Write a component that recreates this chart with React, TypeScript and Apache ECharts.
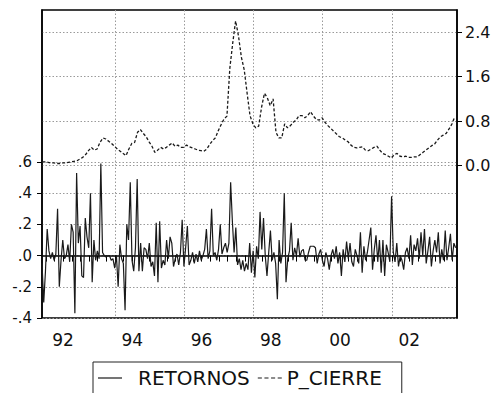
import React, { useEffect, useRef } from 'react';
import * as echarts from 'echarts';

// Time axis (fractional years)
const X_MIN = 1991.89;
const X_MAX = 2003.88;
const RET_START = 1991.89;
const RET_STEP = 0.05;
const PRICE_START = 1991.9;
const PRICE_STEP = 1 / 12;

const YEAR_LABELS = [1992, 1994, 1996, 1998, 2000, 2002];
const GRID_YEARS = [1994, 1996, 1998, 2000, 2002];
const RET_TICKS = [-0.4, -0.2, 0, 0.2, 0.4, 0.6];
const PRICE_TICKS = [0, 0.8, 1.6, 2.4];
const SERIES_NAMES = ['RETORNOS', 'P_CIERRE'];

const RETORNOS = [
  -0.05, -0.30, -0.10, 0.17, 0.03, -0.02, 0.02, -0.03, 0.01, 0.30, -0.20, -0.03, 0.10, -0.02, 0.00, 0.07, -0.04, 0.20, 0.15, -0.37,
  0.53, 0.08, 0.19, -0.13, -0.14, 0.24, 0.12, 0.05, 0.40, -0.17, 0.10, -0.03, 0.03, -0.02, 0.59, 0.02, 0.00, -0.01, 0.00, 0.00,
  -0.03, -0.02, -0.08, 0.00, -0.20, 0.07, -0.02, -0.05, -0.35, 0.20, 0.10, 0.47, -0.03, -0.10, 0.05, 0.49, -0.10, 0.08, -0.10, 0.05,
  0.04, -0.02, 0.08, -0.07, -0.04, -0.13, 0.21, -0.17, 0.22, -0.08, -0.03, -0.06, 0.10, -0.02, 0.12, 0.08, -0.07, -0.02, 0.01, -0.06,
  0.02, 0.23, -0.07, 0.05, 0.19, -0.06, -0.03, 0.02, -0.05, 0.01, -0.04, 0.03, -0.03, 0.00, 0.04, 0.17, -0.02, 0.03, 0.30, 0.00,
  0.02, -0.03, 0.04, 0.20, 0.01, 0.05, 0.08, 0.02, 0.08, 0.47, 0.22, 0.02, 0.18, -0.06, -0.02, -0.09, -0.03, -0.10, -0.05, -0.09,
  0.08, -0.11, 0.03, -0.14, 0.06, -0.02, 0.28, 0.04, 0.24, 0.00, -0.13, 0.02, 0.16, -0.03, 0.02, -0.05, -0.28, 0.10, -0.05, 0.02,
  0.40, -0.17, -0.02, 0.03, 0.21, -0.03, 0.05, 0.00, 0.11, -0.01, 0.03, 0.04, -0.03, -0.03, 0.02, 0.06, 0.06, 0.06, 0.05, -0.05,
  0.01, 0.04, -0.03, -0.07, 0.02, -0.02, -0.09, 0.00, 0.04, -0.02, 0.06, -0.05, 0.02, -0.13, 0.04, -0.04, 0.09, -0.02, 0.08, -0.04,
  -0.07, 0.04, 0.00, -0.05, 0.15, -0.11, 0.06, -0.03, 0.02, 0.10, 0.18, -0.09, 0.04, 0.13, -0.04, 0.10, -0.11, 0.10, -0.13, 0.07,
  0.02, -0.04, 0.38, 0.02, -0.04, 0.08, -0.07, 0.00, -0.03, -0.09, 0.02, 0.05, -0.02, 0.13, -0.06, 0.07, 0.03, 0.11, -0.02, 0.15,
  0.00, 0.17, -0.05, 0.03, 0.12, -0.07, 0.03, 0.10, 0.02, 0.15, -0.05, 0.04, -0.03, 0.16, -0.03, 0.05, 0.14, -0.03, 0.08, 0.05,
];

const P_CIERRE = [
  0.07, 0.07, 0.06, 0.05, 0.05, 0.04, 0.04, 0.05, 0.05, 0.06,
  0.07, 0.08, 0.09, 0.12, 0.15, 0.20, 0.27, 0.33, 0.28, 0.30,
  0.42, 0.50, 0.48, 0.44, 0.40, 0.35, 0.30, 0.26, 0.22, 0.18,
  0.30, 0.40, 0.42, 0.60, 0.65, 0.58, 0.52, 0.43, 0.35, 0.24,
  0.28, 0.33, 0.30, 0.33, 0.37, 0.41, 0.35, 0.37, 0.33, 0.33,
  0.37, 0.34, 0.32, 0.30, 0.28, 0.27, 0.26, 0.30, 0.38, 0.45,
  0.50, 0.63, 0.74, 0.84, 0.89, 1.75, 2.20, 2.60, 2.33, 1.95,
  1.72, 1.30, 0.90, 0.75, 0.68, 0.71, 1.05, 1.30, 1.22, 1.08,
  1.20, 0.60, 0.50, 0.50, 0.75, 0.68, 0.72, 0.78, 0.82, 0.90,
  0.90, 0.86, 0.90, 0.97, 0.89, 0.83, 0.82, 0.86, 0.78, 0.72,
  0.67, 0.62, 0.57, 0.52, 0.50, 0.46, 0.43, 0.37, 0.33, 0.32,
  0.33, 0.34, 0.28, 0.27, 0.30, 0.33, 0.35, 0.28, 0.22, 0.20,
  0.17, 0.14, 0.20, 0.22, 0.17, 0.16, 0.17, 0.15, 0.15, 0.16,
  0.16, 0.20, 0.24, 0.28, 0.32, 0.36, 0.39, 0.46, 0.52, 0.55,
  0.58, 0.66, 0.75, 0.88,
];

const FONT = 'DejaVu Sans';
const INK = '#111';
const LINE_INK = '#1a1a1a';
const GRID_COLOR = '#9a9a9a';
const SOLID_ICON = 'path://M0,0h24v1.2h-24z';
const DASH_ICON = 'path://M0,0h4v1.2h-4zM6.5,0h4v1.2h-4zM13,0h4v1.2h-4zM19.5,0h4v1.2h-4z';

function quarterTicks(): number[] {
  const out: number[] = [];
  for (let y = 1992; y < X_MAX; y += 0.25) out.push(y);
  return out;
}

export default function App() {
  const ref = useRef<HTMLDivElement>(null);

  useEffect(() => {
    if (!ref.current) return;
    const chart = echarts.init(ref.current, undefined, { renderer: 'svg' });

    const retData = RETORNOS.map((v, i) => [RET_START + i * RET_STEP, v]);
    const priceData = P_CIERRE.map((v, i) => [PRICE_START + i * PRICE_STEP, v]);

    const gridLine = { show: true, lineStyle: { color: GRID_COLOR, width: 1, type: [1.5, 2] as any } };

    chart.setOption({
      animation: false,
      backgroundColor: '#fff',
      grid: {
        left: 42, right: 39, top: 10, bottom: 75,
        show: true, borderColor: '#000', borderWidth: 1.5, backgroundColor: 'transparent',
      },
      legend: {
        data: [
          { name: SERIES_NAMES[0], icon: SOLID_ICON },
          { name: SERIES_NAMES[1], icon: DASH_ICON },
        ],
        left: 93, top: 362,
        itemWidth: 24, itemHeight: 2, itemGap: 8,
        borderColor: '#222', borderWidth: 1,
        padding: [6, 20, 14, 5],
        itemStyle: { color: LINE_INK, borderWidth: 0 },
        lineStyle: { width: 0 },
        formatter: (name: string) => name === 'RETORNOS' ? '{g|}{t|' + name + '}' : '{t|' + name + '}',
        textStyle: {
          fontFamily: FONT, fontSize: 20, color: INK,
          rich: {
            g: { width: 11 },
            t: { fontFamily: FONT, fontSize: 20, color: INK },
          },
        },
      },
      xAxis: [
        {
          type: 'value', min: X_MIN, max: X_MAX,
          axisLine: { show: true, lineStyle: { color: '#000', width: 1.5 } },
          axisTick: { show: true, inside: false, length: 6, customValues: quarterTicks(), lineStyle: { color: '#000' } },
          axisLabel: {
            show: true, customValues: YEAR_LABELS.map((y) => y + 0.5), margin: 13,
            fontFamily: FONT, fontSize: 17, color: INK,
            formatter: (v: number) => String(Math.floor(v) % 100).padStart(2, '0'),
          },
          splitLine: { show: false },
        },
        {
          type: 'value', min: X_MIN, max: X_MAX, position: 'bottom',
          axisLine: { show: false },
          axisTick: { show: false, customValues: GRID_YEARS },
          axisLabel: { show: false },
          splitLine: gridLine,
        },
      ],
      yAxis: [
        {
          type: 'value', min: -0.4, max: 1.574, position: 'left',
          axisLine: { show: true, lineStyle: { color: '#000', width: 1.5 } },
          axisTick: { show: true, length: 5, customValues: RET_TICKS, lineStyle: { color: '#000' } },
          axisLabel: {
            customValues: RET_TICKS, margin: 10, fontFamily: FONT, fontSize: 15, color: INK,
            formatter: (v: number) => (v < 0 ? '-' : '') + Math.abs(v).toFixed(1).replace(/^0/, ''),
          },
          splitLine: gridLine,
        },
        {
          type: 'value', min: -2.734, max: 2.796, position: 'right',
          axisLine: { show: true, lineStyle: { color: '#000', width: 1.5 } },
          axisTick: { show: true, length: 5, customValues: PRICE_TICKS, lineStyle: { color: '#000' } },
          axisLabel: {
            customValues: PRICE_TICKS, margin: 8, fontFamily: FONT, fontSize: 16, color: INK,
            formatter: (v: number) => v.toFixed(1),
          },
          splitLine: gridLine,
        },
      ],
      series: [
        {
          name: 'RETORNOS', type: 'line', xAxisIndex: 0, yAxisIndex: 0,
          data: retData, symbol: 'none', showSymbol: false,
          lineStyle: { color: LINE_INK, width: 1.2 }, itemStyle: { color: LINE_INK },
          z: 3,
        },
        {
          name: 'P_CIERRE', type: 'line', xAxisIndex: 0, yAxisIndex: 1,
          data: priceData, symbol: 'none', showSymbol: false,
          lineStyle: { color: LINE_INK, width: 1.3, type: [3, 2] }, itemStyle: { color: LINE_INK },
          z: 4,
        },
      ],
    } as any);

    return () => chart.dispose();
  }, []);

  return <div ref={ref} style={{ width: 496, height: 393, position: 'absolute', left: 0, top: 0 }} />;
}
